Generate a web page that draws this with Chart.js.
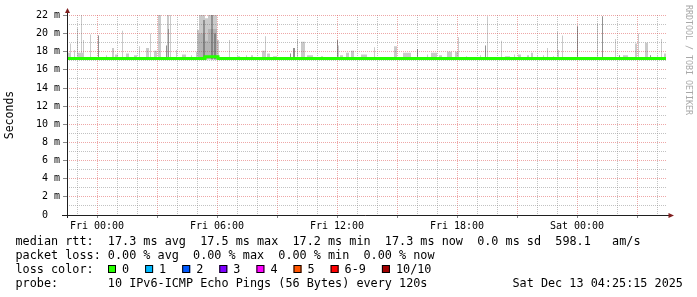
<!DOCTYPE html>
<html><head><meta charset="utf-8">
<script src="https://cdn.jsdelivr.net/npm/chart.js@4.4.1/dist/chart.umd.min.js"></script>
<style>html,body{margin:0;padding:0;background:#fff;overflow:hidden}canvas{display:block}</style>
</head><body>
<canvas id="c" width="697" height="297"></canvas>
<script>
// ---- time axis (hours relative to Fri 00:00) ----
const tickHours = [0, 6, 12, 18, 24];
const tickLabels = ['Fri 00:00', 'Fri 06:00', 'Fri 12:00', 'Fri 18:00', 'Sat 00:00'];
const yTickValues = [0, 2, 4, 6, 8, 10, 12, 14, 16, 18, 20, 22];
const yTickLabels = ['0  ', '2 m', '4 m', '6 m', '8 m', '10 m', '12 m', '14 m', '16 m', '18 m', '20 m', '22 m'];

// ---- smoke (ping spread), ms: block start hour, end hour, top value ----
const lightStart = [-1.5,-1.35,-1.15,-1.0,-0.95,-0.8,-0.75,-0.7,-0.35,0.05,0.45,0.75,0.9,1.25,1.45,1.85,2.1,2.45,2.65,2.85,3.05,3.45,3.5,3.65,3.95,4.25,4.7,4.95,5.0,5.1,5.4,5.55,6.0,6.6,7.0,7.45,7.7,8.25,8.4,8.5,8.8,9.65,9.8,10.0,10.2,10.5,11.2,12.0,12.05,12.15,12.45,12.7,13.2,13.85,14.85,15.3,16.0,16.5,16.7,17.1,17.5,17.9,18.05,18.45,19.15,19.4,19.5,20.2,20.4,20.85,21.05,21.5,21.7,22.0,22.3,22.5,22.8,23.0,23.05,23.25,24.0,24.45,25.0,25.25,25.9,26.1,26.3,26.9,27.05,27.2,27.4,27.65,28.0,28.2,28.35];
const lightEnd   = [-1.35,-1.3,-1.1,-0.95,-0.8,-0.75,-0.7,-0.65,-0.3,0.1,0.5,0.85,1.05,1.3,1.6,2.0,2.15,2.6,2.7,3.0,3.2,3.5,3.6,3.7,4.0,4.45,4.75,5.0,5.1,5.4,5.55,6.0,6.1,6.65,7.15,7.5,7.8,8.4,8.45,8.65,9.0,9.7,9.9,10.05,10.4,10.8,11.3,12.05,12.1,12.3,12.6,12.85,13.5,13.9,15.0,15.7,16.05,16.55,17.0,17.25,17.75,18.05,18.1,18.5,19.2,19.45,19.55,20.25,20.65,20.9,21.2,21.6,21.8,22.05,22.35,22.55,22.85,23.05,23.1,23.3,24.05,24.5,25.05,25.3,25.95,26.15,26.55,27.0,27.1,27.3,27.55,27.7,28.05,28.25,28.45];
const lightTop   = [17.9,18.9,18.2,20.6,17.9,22.1,17.9,19.3,19.9,19.8,17.6,18.4,17.7,20.3,17.8,17.6,18.6,18.4,20.0,18.1,22.1,18.7,22.1,22.1,18.2,17.7,17.6,18.0,20.4,22.1,21.7,22.1,19.3,19.3,17.5,17.6,17.6,18.1,19.7,17.8,17.5,17.8,18.4,19.4,19.1,17.6,17.5,19.3,18.7,17.6,17.9,18.1,17.7,18.5,18.6,17.9,18.3,17.7,17.9,17.6,18.0,18.0,19.6,17.5,17.6,18.7,21.9,19.2,17.5,17.7,17.7,17.6,17.9,17.5,17.6,18.4,17.5,20.2,18.2,19.8,20.8,17.4,21.1,21.9,19.4,17.6,17.6,18.9,20.0,17.4,19.0,17.6,17.5,19.4,17.8];

const midStart = [5.05, 5.4, 5.55];
const midEnd   = [5.4, 5.55, 6.0];
const midTop   = [20.0, 19.2, 20.5];

const darkStart = [0.05, 3.45, 3.55, 5.3, 5.7, 5.85, 9.65, 9.8, 12.0, 16.0, 19.4, 24.0, 25.25, 26.1, 27.65];
const darkEnd   = [0.1, 3.5, 3.6, 5.4, 5.8, 5.95, 9.7, 9.9, 12.05, 16.05, 19.45, 24.05, 25.3, 26.15, 27.7];
const darkTop   = [19.8, 18.7, 20.5, 21.5, 22.1, 20.0, 17.8, 18.4, 19.3, 18.3, 18.7, 20.8, 21.9, 17.6, 17.6];

// ---- median rtt (ms), stepped ----
const medianHours = [-1.5, 5.4, 6.05, 28.45];
const medianMs    = [17.25, 17.45, 17.25, 17.25];

// ---- legend ----
const statsLine1 = 'median rtt:  17.3 ms avg  17.5 ms max  17.2 ms min  17.3 ms now  0.0 ms sd  598.1   am/s';
const statsLine2 = 'packet loss: 0.00 % avg  0.00 % max  0.00 % min  0.00 % now';
const lossLabels = ['0', '1', '2', '3', '4', '5', '6-9', '10/10'];
const lossColors = ['#26ff00', '#00b8ff', '#0059ff', '#7e00ff', '#ff00ff', '#ff5500', '#ff0000', '#a10000'];
const probeLine = 'probe:       10 IPv6-ICMP Echo Pings (56 Bytes) every 120s';
const dateText = 'Sat Dec 13 04:25:15 2025';
const watermark = 'RRDTOOL / TOBI OETIKER';

const BASE = 17.15;
const MONO = '"DejaVu Sans Mono", "Liberation Mono", monospace';

function blocks(s, e, t) {
  const pts = [];
  for (let i = 0; i < s.length; i++) {
    pts.push({x: s[i], y: t[i]});
    pts.push({x: e[i], y: BASE});
  }
  return pts;
}

const RED = 'rgba(222,79,79,0.5)';
const GRAY = 'rgba(143,143,143,0.55)';
// grid colours per tick, x: hours -1..28, y: 0..22 ms
const xGridColors = [];
for (let h = -1; h <= 28; h++) xGridColors.push(h % 3 === 0 ? RED : GRAY);
const xTickColors = xGridColors.map(c => c === RED ? '#888' : 'rgba(0,0,0,0)');
const yGridColors = [];
for (let v = 0; v <= 22; v++) yGridColors.push(v % 2 === 0 ? RED : GRAY);
const yTickColors = yGridColors.map(c => c === RED ? '#888' : 'rgba(0,0,0,0)');

const decor = {
  id: 'decor',
  afterDraw(chart) {
    const ctx = chart.ctx;
    const a = chart.chartArea;
    ctx.save();
    ctx.strokeStyle = '#1f1f1f';
    ctx.lineWidth = 1;
    ctx.setLineDash([]);
    ctx.beginPath();
    ctx.moveTo(62, a.bottom + 0.5); ctx.lineTo(669, a.bottom + 0.5);
    ctx.moveTo(a.left + 0.5, a.bottom + 3); ctx.lineTo(a.left + 0.5, 12);
    ctx.stroke();
    ctx.fillStyle = '#801f1f';
    ctx.beginPath();
    ctx.moveTo(a.left - 2, 13); ctx.lineTo(a.left + 3, 13); ctx.lineTo(a.left + 0.5, 8); ctx.closePath(); ctx.fill();
    ctx.beginPath();
    ctx.moveTo(668.5, a.bottom - 2); ctx.lineTo(668.5, a.bottom + 3); ctx.lineTo(674, a.bottom + 0.5); ctx.closePath(); ctx.fill();

    ctx.save();
    ctx.translate(688.5, 5);
    ctx.rotate(Math.PI / 2);
    ctx.font = '8.3px ' + MONO;
    ctx.fillStyle = '#a8a8a8';
    ctx.textBaseline = 'middle';
    ctx.textAlign = 'left';
    ctx.fillText(watermark, 0, 0);
    ctx.restore();

    ctx.font = '11.8px ' + MONO;
    ctx.fillStyle = '#000';
    ctx.textBaseline = 'alphabetic';
    ctx.textAlign = 'left';
    ctx.fillText(statsLine1, 15.5, 245);
    ctx.fillText(statsLine2, 15.5, 259);
    ctx.fillText('loss color:', 15.5, 273);
    let x = 108;
    for (let i = 0; i < lossLabels.length; i++) {
      ctx.fillStyle = lossColors[i];
      ctx.fillRect(x, 265, 8, 8);
      ctx.strokeStyle = '#000';
      ctx.strokeRect(x + 0.5, 265.5, 7, 7);
      ctx.fillStyle = '#000';
      ctx.fillText(lossLabels[i], x + 14, 273);
      x += 14 + ctx.measureText(lossLabels[i]).width + 16;
    }
    ctx.fillText(probeLine, 15.5, 287);
    ctx.fillText(dateText, 512.5, 287);
    ctx.restore();
  }
};

new Chart(document.getElementById('c'), {
  type: 'line',
  data: {
    datasets: [
      {data: blocks(lightStart, lightEnd, lightTop), stepped: 'before', fill: {value: BASE},
       backgroundColor: 'rgba(100,100,100,0.34)', borderWidth: 0, pointRadius: 0, order: 4},
      {data: blocks(midStart, midEnd, midTop), stepped: 'before', fill: {value: BASE},
       backgroundColor: 'rgba(90,90,90,0.2)', borderWidth: 0, pointRadius: 0, order: 3},
      {data: blocks(darkStart, darkEnd, darkTop), stepped: 'before', fill: {value: BASE},
       backgroundColor: 'rgba(60,60,60,0.4)', borderWidth: 0, pointRadius: 0, order: 2},
      {data: medianHours.map((h, i) => ({x: h, y: medianMs[i]})), stepped: 'before', fill: false,
       borderColor: '#26ff00', borderWidth: 3, pointRadius: 0, order: 1, borderCapStyle: 'butt'}
    ]
  },
  options: {
    responsive: false, animation: false, events: [], devicePixelRatio: 1,
    layout: {padding: {left: 0, right: 31, top: 15, bottom: 0}},
    plugins: {legend: {display: false}, tooltip: {enabled: false}},
    scales: {
      x: {
        type: 'linear', min: -1.5, max: 28.45,
        afterBuildTicks: s => { const t = []; for (let h = -1; h <= 28; h++) t.push({value: h}); s.ticks = t; },
        afterFit: s => { s.height = 82; s.paddingLeft = 0; s.paddingRight = 0; },
        ticks: {
          autoSkip: false, maxRotation: 0, minRotation: 0, padding: 2, color: '#000',
          font: {family: MONO, size: 10},
          callback: v => { const i = tickHours.indexOf(v); return i >= 0 ? tickLabels[i] : ''; }
        },
        grid: {
          color: xGridColors, lineWidth: 1, drawTicks: true, tickLength: 3, tickColor: xTickColors
        },
        border: {display: false, dash: [1, 1]}
      },
      y: {
        type: 'linear', min: 0, max: 22.05,
        afterBuildTicks: s => { s.ticks = []; for (let v = 0; v <= 22; v++) s.ticks.push({value: v}); },
        afterFit: s => { s.width = 67; s.paddingTop = 0; s.paddingBottom = 0; },
        ticks: {
          autoSkip: false, padding: 3, color: '#000',
          font: {family: MONO, size: 10},
          callback: v => { const i = yTickValues.indexOf(v); return i >= 0 ? yTickLabels[i] : ''; }
        },
        title: {display: true, text: 'Seconds', color: '#000', font: {family: MONO, size: 11.5}, padding: {top: 3, bottom: 0}},
        grid: {
          color: yGridColors, lineWidth: 1, drawTicks: true, tickLength: 4, tickColor: yTickColors
        },
        border: {display: false, dash: [1, 1]}
      }
    }
  },
  plugins: [decor]
});
</script>
</body></html>
